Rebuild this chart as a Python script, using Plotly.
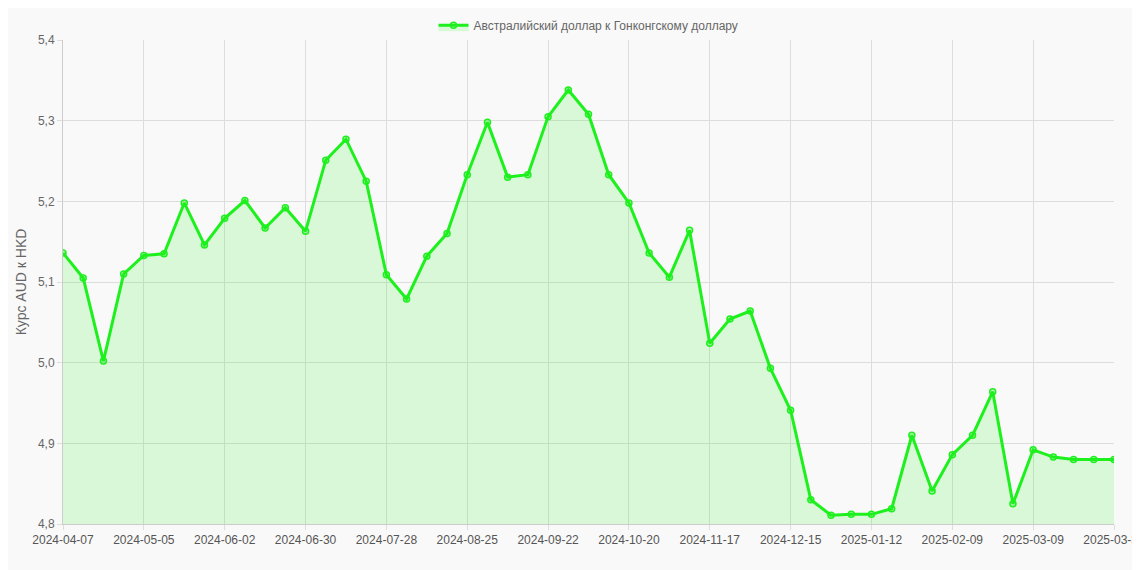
import datetime as dt
import plotly.graph_objects as go

start = dt.date(2024, 4, 7)
dates = [(start + dt.timedelta(weeks=i)).isoformat() for i in range(52)] + ["2025-03-31"]

rates = [5.136, 5.105, 5.002, 5.110, 5.133, 5.135, 5.198, 5.146, 5.179, 5.201,
         5.167, 5.192, 5.163, 5.251, 5.277, 5.225, 5.109, 5.079, 5.132, 5.160,
         5.233, 5.298, 5.230, 5.233, 5.305, 5.338, 5.308, 5.233, 5.198, 5.136,
         5.106, 5.164, 5.024, 5.054, 5.064, 4.993, 4.941, 4.830, 4.811, 4.812,
         4.812, 4.819, 4.910, 4.841, 4.886, 4.910, 4.964, 4.825, 4.892, 4.883,
         4.880, 4.880, 4.880]

tick_dates = dates[0:49:4] + [dates[-1]]
y_ticks = [4.8, 4.9, 5.0, 5.1, 5.2, 5.3, 5.4]

fig = go.Figure()
fig.add_trace(go.Scatter(
    x=dates, y=rates, mode="lines+markers",
    name="Австралийский доллар к Гонконгскому доллару",
    line=dict(color="#1ef01e", width=3),
    marker=dict(size=6, color="rgba(30,240,30,0.3)", line=dict(color="#1ef01e", width=1.5)),
    fill="tozeroy", fillcolor="rgba(30,240,30,0.15)",
))

fig.update_layout(
    width=1140, height=570,
    paper_bgcolor="#f9f9f9", plot_bgcolor="#f9f9f9",
    margin=dict(l=55, r=34, t=32, b=54),
    font=dict(family="Liberation Sans, Arial", size=12, color="#666"),
    showlegend=True,
    legend=dict(orientation="h", x=0.5, xanchor="center", yref="container", y=0.995, yanchor="top",
                font=dict(size=12, color="#666"), bgcolor="rgba(0,0,0,0)"),
    xaxis=dict(type="category", tickmode="array", tickvals=tick_dates, ticktext=tick_dates,
               showgrid=True, gridcolor="#ddd", linecolor="#ccc", ticks="outside",
               tickcolor="#ddd", tickangle=0, range=[0, len(dates) - 1], automargin=False,
               tickfont=dict(color="#555")),
    yaxis=dict(title=dict(text="Курс AUD к HKD", font=dict(size=14), standoff=8),
               range=[4.8, 5.4], tickvals=y_ticks,
               ticktext=[f"{v:.1f}".replace(".", ",") for v in y_ticks],
               showgrid=True, gridcolor="#ddd", linecolor="#ccc", ticks="outside",
               tickcolor="#ddd", zeroline=False, automargin=False),
)

fig.write_html("out.html")
